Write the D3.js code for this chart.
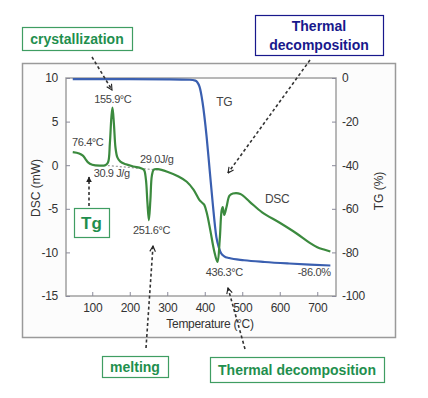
<!DOCTYPE html>
<html><head><meta charset="utf-8">
<script src="https://cdn.jsdelivr.net/npm/d3@7"></script>
<style>
html,body{margin:0;padding:0;background:#fff;}
svg{display:block;font-family:"Liberation Sans",Arial,sans-serif;}
</style></head>
<body>
<svg id="c" width="428" height="398"></svg>
<script>
// ---- data ----
const dscTemp = [48,65,75,82,88,100,120,135,142,147,151,154,158,162,167,175,190,210,230,238,243,247,251,255,259,264,275,300,330,352,370,386,393,398,405,415,425,434,440,445,448,452,458,466,475,495,520,553,600,644,680,700,720,735];
const dscVal  = [1.5,1.35,1.1,0.7,0.35,0.05,-0.05,0.0,0.3,2.5,5.5,6.6,4.6,2.0,0.9,0.4,0.1,-0.15,-0.35,-0.55,-1.6,-4.2,-6.3,-4.0,-1.2,-0.5,-0.45,-0.75,-1.3,-1.9,-2.8,-4.0,-4.3,-4.5,-5.4,-7.5,-9.8,-11.1,-8.5,-5.2,-4.8,-5.7,-4.8,-3.5,-3.25,-3.3,-4.2,-5.4,-6.6,-7.8,-8.9,-9.4,-9.7,-9.9];
const tgTemp = [48,200,300,360,375,386,394,405,413,421,431,438,444,452,465,505,560,625,680,735];
const tgVal  = [-0.5,-0.5,-0.6,-0.8,-1.2,-4,-11,-27,-42,-57,-73,-78,-80.5,-81.8,-82.6,-83.6,-84.4,-85.1,-85.6,-86.0];
const xTicks = [100,200,300,400,500,600,700];
const dscTicks = [10,5,0,-5,-10,-15];
const tgTicks = [0,-20,-40,-60,-80,-100];
// in-plot labels: [text, temperature, DSC value]
const peakLabels = [["155.9°C",155,7.1],["76.4°C",88,2.2],["29.0J/g",272,0.25],["30.9 J/g",152,-1.35],["251.6°C",258,-7.9],["436.3°C",452,-12.7]];
const curveLabels = [["TG",452,6.8],["DSC",593,-4.3],["-86.0%",692,-12.7]];
const baseT = [131,275], baseV = [0.0,-0.55];

const svg = d3.select("#c");
const L=66,R=336,T=78,B=296;
const x = d3.scaleLinear().domain([30,750]).range([L,R]);
const yD = d3.scaleLinear().domain([-15,10]).range([B,T]);
const yT = d3.scaleLinear().domain([-100,0]).range([B,T]);
const fmt = d => String(d);

// outer frame
svg.append("rect").attr("x",22.5).attr("y",63.5).attr("width",373).attr("height",274)
  .attr("fill","#fcfcfc").attr("stroke","#9a9a9a").attr("stroke-width",1.5);
// plot box
svg.append("rect").attr("x",L).attr("y",T).attr("width",R-L).attr("height",B-T)
  .attr("fill","#fff").attr("stroke","#a0a0a0").attr("stroke-width",1.5);

function styleAxis(g){
  g.select(".domain").remove();
  g.selectAll(".tick line").attr("stroke","#8a8a9a");
  g.selectAll(".tick text").attr("fill","#333").style("font-size","12px").style("letter-spacing","-0.3px");
}
svg.append("g").attr("transform",`translate(0,${B})`)
  .call(d3.axisBottom(x).tickValues(xTicks).tickFormat(fmt).tickSize(-4).tickPadding(7)).call(styleAxis);
svg.append("g").attr("transform",`translate(${L},0)`)
  .call(d3.axisLeft(yD).tickValues(dscTicks).tickFormat(fmt).tickSize(-4).tickPadding(8)).call(styleAxis);
svg.append("g").attr("transform",`translate(${R},0)`)
  .call(d3.axisRight(yT).tickValues(tgTicks).tickFormat(fmt).tickSize(-4).tickPadding(6)).call(styleAxis);

// axis titles
svg.append("text").attr("transform","translate(40,188) rotate(-90)").attr("text-anchor","middle")
  .attr("fill","#333").style("font-size","12px").text("DSC (mW)");
svg.append("text").attr("transform","translate(383,191) rotate(-90)").attr("text-anchor","middle")
  .attr("fill","#333").style("font-size","12px").text("TG (%)");
svg.append("text").attr("x",210).attr("y",328).attr("text-anchor","middle")
  .attr("fill","#333").style("font-size","12px").style("letter-spacing","-0.3px").text("Temperature (°C)");

// baseline dashed
svg.append("path").datum(d3.range(baseT.length))
  .attr("d",d3.line().x(i=>x(baseT[i])).y(i=>yD(baseV[i])))
  .attr("stroke","#999").attr("stroke-width",1.2).attr("stroke-dasharray","2,2").attr("fill","none");

// curves
svg.append("path").datum(d3.range(tgTemp.length))
  .attr("d",d3.line().x(i=>x(tgTemp[i])).y(i=>yT(tgVal[i])).curve(d3.curveMonotoneX))
  .attr("fill","none").attr("stroke","#3a5fb0").attr("stroke-width",2.2);
svg.append("path").datum(d3.range(dscTemp.length))
  .attr("d",d3.line().x(i=>x(dscTemp[i])).y(i=>yD(dscVal[i])).curve(d3.curveCatmullRom.alpha(0.5)))
  .attr("fill","none").attr("stroke","#3b8a3e").attr("stroke-width",2.2);

// labels
svg.selectAll(".pl").data(peakLabels).join("text")
  .attr("x",d=>x(d[1])).attr("y",d=>yD(d[2])).attr("text-anchor","middle")
  .attr("fill","#444").style("font-size","11px").style("letter-spacing","-0.4px").text(d=>d[0]);
svg.selectAll(".cl").data(curveLabels).join("text")
  .attr("x",d=>x(d[1])).attr("y",d=>yD(d[2])).attr("text-anchor","middle")
  .attr("fill","#444").style("font-size",d=>d[0]==="-86.0%"?"11px":"12px").style("letter-spacing","-0.3px").text(d=>d[0]);

// arrow markers
const defs = svg.append("defs");
defs.append("marker").attr("id","ah").attr("viewBox","0 0 10 10").attr("refX",9).attr("refY",5)
  .attr("markerWidth",7).attr("markerHeight",7).attr("markerUnits","userSpaceOnUse").attr("orient","auto")
  .append("path").attr("d","M1,1 L9,5 L1,9").attr("fill","none").attr("stroke","#222").attr("stroke-width",1.6);
defs.append("marker").attr("id","ahf").attr("viewBox","0 0 10 10").attr("refX",9).attr("refY",5)
  .attr("markerWidth",6).attr("markerHeight",6).attr("markerUnits","userSpaceOnUse").attr("orient","auto")
  .append("path").attr("d","M0,0 L10,5 L0,10 Z").attr("fill","#222");

const arrows = [
  [92,57,112,90,"ah"],
  [310,60,228,173,"ah"],
  [89,206,89,177,"ahf"],
  [146,348,153,246,"ah"],
  [245,349,228,288,"ah"]
];
svg.selectAll(".ar").data(arrows).join("line")
  .attr("x1",d=>d[0]).attr("y1",d=>d[1]).attr("x2",d=>d[2]).attr("y2",d=>d[3])
  .attr("stroke","#333").attr("stroke-width",1.6).attr("stroke-dasharray","3,2.5")
  .attr("marker-end",d=>`url(#${d[4]})`);

// boxes
const green="#1f8f4e", greenB="#3f9d62", navy="#18188c";
function box(x0,y0,w,h,stroke,lines,color,fs,ty){
  svg.append("rect").attr("x",x0+0.5).attr("y",y0+0.5).attr("width",w).attr("height",h)
    .attr("fill","#fff").attr("stroke",stroke).attr("stroke-width",1.2);
  lines.forEach((t,i)=>svg.append("text").attr("x",x0+w/2).attr("y",ty[i]).attr("text-anchor","middle")
    .attr("fill",color).style("font-size",fs+"px").style("font-weight","bold").text(t));
}
box(22,27,110,23,greenB,["crystallization"],green,14,[44]);
box(255,15,128,40,navy,["Thermal","decomposition"],navy,14,[31,50]);
box(74,208,35,29,greenB,["Tg"],green,17,[229]);
box(102,356,66,21,greenB,["melting"],green,14,[372]);
box(210,357,174,25,greenB,["Thermal decomposition"],green,14,[375]);
</script>
</body></html>
